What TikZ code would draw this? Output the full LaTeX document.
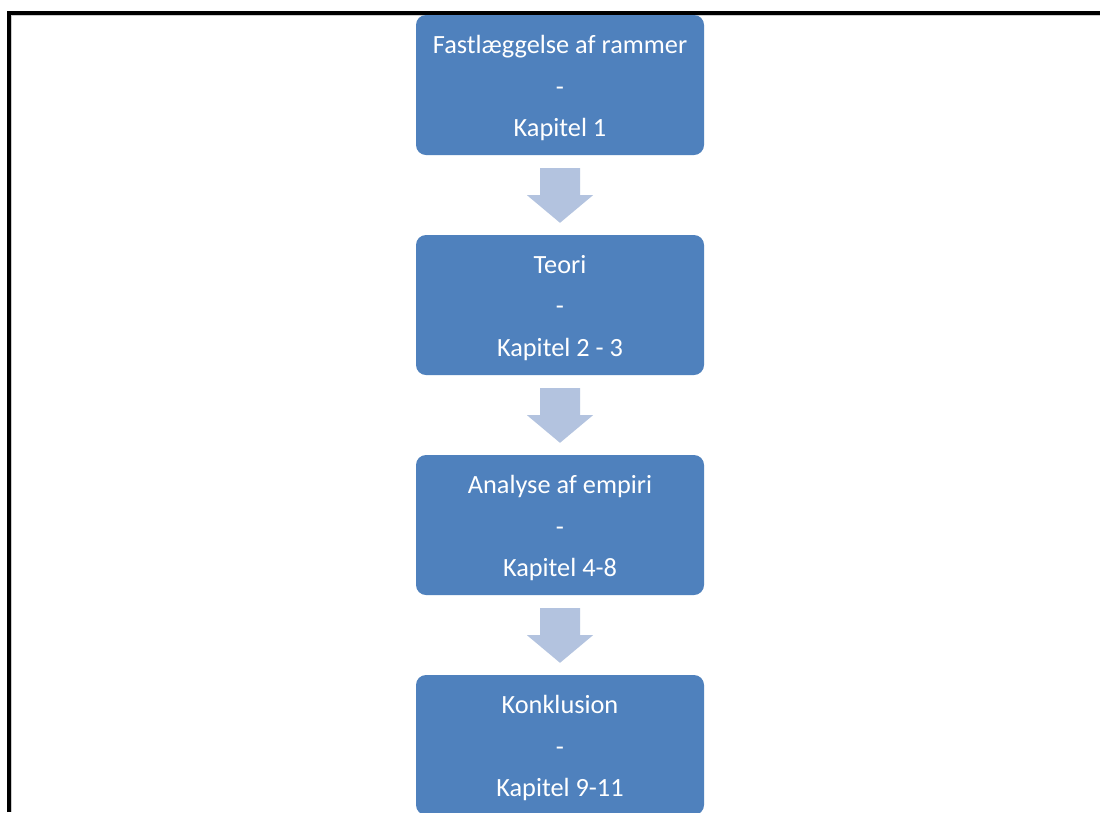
\documentclass[tikz,border=0pt]{standalone}
\usepackage{fontspec}
\setmainfont{Carlito}
\usetikzlibrary{calc}
\definecolor{boxblue}{HTML}{4F81BD}
\definecolor{arrowblue}{HTML}{B3C3DF}
\tikzset{
  stepbox/.style={rectangle, rounded corners=10pt, fill=boxblue, draw=none,
    minimum width=288pt, minimum height=140pt, inner sep=0pt,
    label={[boxlabel]center:#1}},
  boxlabel/.style={text=white, align=center, inner sep=0pt, yshift=-3pt,
    font=\fontsize{26.3}{41.5}\selectfont},
  flowarrow/.style={fill=arrowblue, draw=none},
  frameline/.style={line width=4pt, black}
}
\newcommand\flowarr[2]{%
  \fill[flowarrow] ($(#1.south)+(-20,13)$) -- ($(#1.south)+(20,13)$) -- ($(#1.south)+(20,40)$)
    -- ($(#1.south)+(33,40)$) -- ($(#2.north)+(0,-12)$) -- ($(#1.south)+(-33,40)$)
    -- ($(#1.south)+(-20,40)$) -- cycle;}
\begin{document}
\begin{tikzpicture}[x=1pt,y=-1pt]
\useasboundingbox (0,0) rectangle (1100,812);
\fill[white] (0,0) rectangle (1100,812);
\draw[frameline] (9,812) -- (9,12.5) -- (1100,12.5);
\draw[gray!40, line width=0.8pt] (11.5,812) -- (11.5,15) -- (1100,15);
\node[stepbox={Fastlæggelse af rammer\\-\\Kapitel 1}] (s1) at (560,85) {};
\node[stepbox={Teori\\-\\Kapitel 2 - 3}] (s2) at (560,305) {};
\node[stepbox={Analyse af empiri\\-\\Kapitel 4-8}] (s3) at (560,525) {};
\node[stepbox={Konklusion\\-\\Kapitel 9-11}] (s4) at (560,745) {};
\flowarr{s1}{s2}
\flowarr{s2}{s3}
\flowarr{s3}{s4}
\end{tikzpicture}
\end{document}
